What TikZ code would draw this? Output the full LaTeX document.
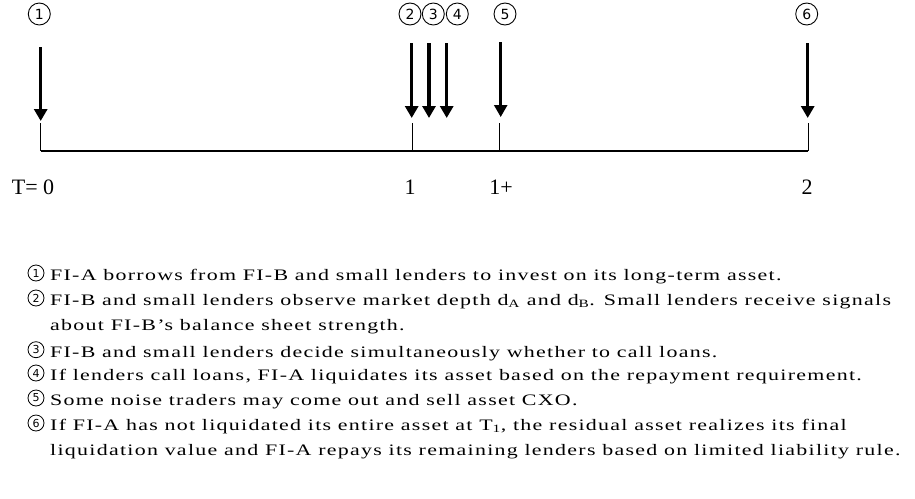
\documentclass[tikz,border=0pt]{standalone}
\usepackage{fontspec}
\setmainfont{Liberation Serif}[FakeStretch=1.37,LetterSpace=8]
\newfontfamily\circfont{DejaVu Sans}
\newfontfamily\tickfont{Liberation Serif}
\usetikzlibrary{arrows.meta}

\tikzset{
  event/.style={-{Triangle[width=13pt,length=12pt]},line width=3.5pt},
  eventthin/.style={event,line width=2.5pt},
  stepnum/.style={circle,draw,line width=0.9pt,minimum size=22pt,inner sep=0pt,
    font=\circfont\fontsize{14}{14}\selectfont},
  itemnum/.style={circle,draw,line width=0.8pt,minimum size=16pt,inner sep=0pt,
    font=\circfont\fontsize{11}{11}\selectfont},
  ticklab/.style={font=\tickfont\fontsize{22}{22}\selectfont,inner sep=0pt,anchor=base},
  itemtext/.style={font=\fontsize{16}{16}\selectfont,inner sep=0pt,anchor=base west},
}

\begin{document}
\begin{tikzpicture}[x=1pt,y=-1pt]
  \useasboundingbox (0,0) rectangle (915,498);

  % time line
  \coordinate (t0)  at (40.7,151);
  \coordinate (t1)  at (412,151);
  \coordinate (t1p) at (499.5,151);
  \coordinate (t2)  at (808,151);
  \draw[line width=1.2pt] (t0) -- (t2);
  \foreach \t in {t0,t1,t1p,t2}
    \draw[line width=1pt] (\t) -- ++(0,-28);

  \node[ticklab] (l0)  at (33,194)  {T= 0};
  \node[ticklab] (l1)  at (410,194) {1};
  \node[ticklab] (l1p) at (501,194) {1+};
  \node[ticklab] (l2)  at (807,194) {2};

  % event numbers
  \node[stepnum] (n1) at (39.3,14)  {1};
  \node[stepnum] (n2) at (410,14)   {2};
  \node[stepnum] (n3) at (433.3,14) {3};
  \node[stepnum] (n4) at (457.3,14) {4};
  \node[stepnum] (n5) at (505,14)   {5};
  \node[stepnum] (n6) at (806.7,14) {6};

  % event arrows
  \coordinate (a1) at (40.7,47);  \coordinate (b1) at (40.7,121);
  \coordinate (a2) at (411.7,43); \coordinate (b2) at (411.7,118);
  \coordinate (a3) at (429,43);   \coordinate (b3) at (429,118);
  \coordinate (a4) at (446.7,43); \coordinate (b4) at (446.7,118);
  \coordinate (a5) at (500.7,42); \coordinate (b5) at (500.7,117);
  \coordinate (a6) at (807.7,43); \coordinate (b6) at (807.7,118);
  \draw[event] (a1) -- (b1);
  \draw[event] (a2) -- (b2);
  \draw[event] (a3) -- (b3);
  \draw[event] (a4) -- (b4);
  \draw[eventthin] (a5) -- (b5);
  \draw[event] (a6) -- (b6);

  % legend
  \node[itemnum] (i1) at (36,273) {1};
  \node[itemtext] (s1) at (50,280.3) {FI-A borrows from FI-B and small lenders to invest on its long-term asset.};
  \node[itemnum] (i2) at (36,298) {2};
  \node[itemtext] (s2) at (50,305.3) {FI-B and small lenders observe market depth d\textsubscript{A} and d\textsubscript{B}. Small lenders receive signals};
  \node[itemtext] (s2b) at (50,330.3) {about FI-B’s balance sheet strength.};
  \node[itemnum] (i3) at (36,349.7) {3};
  \node[itemtext] (s3) at (50,357) {FI-B and small lenders decide simultaneously whether to call loans.};
  \node[itemnum] (i4) at (36,373) {4};
  \node[itemtext] (s4) at (50,380.3) {If lenders call loans, FI-A liquidates its asset based on the repayment requirement.};
  \node[itemnum] (i5) at (36,398) {5};
  \node[itemtext] (s5) at (50,405.3) {Some noise traders may come out and sell asset CXO.};
  \node[itemnum] (i6) at (36,423) {6};
  \node[itemtext] (s6) at (50,430.3) {If FI-A has not liquidated its entire asset at T\textsubscript{1}, the residual asset realizes its final};
  \node[itemtext] (s6b) at (50,455.3) {liquidation value and FI-A repays its remaining lenders based on limited liability rule.};
\end{tikzpicture}
\end{document}
